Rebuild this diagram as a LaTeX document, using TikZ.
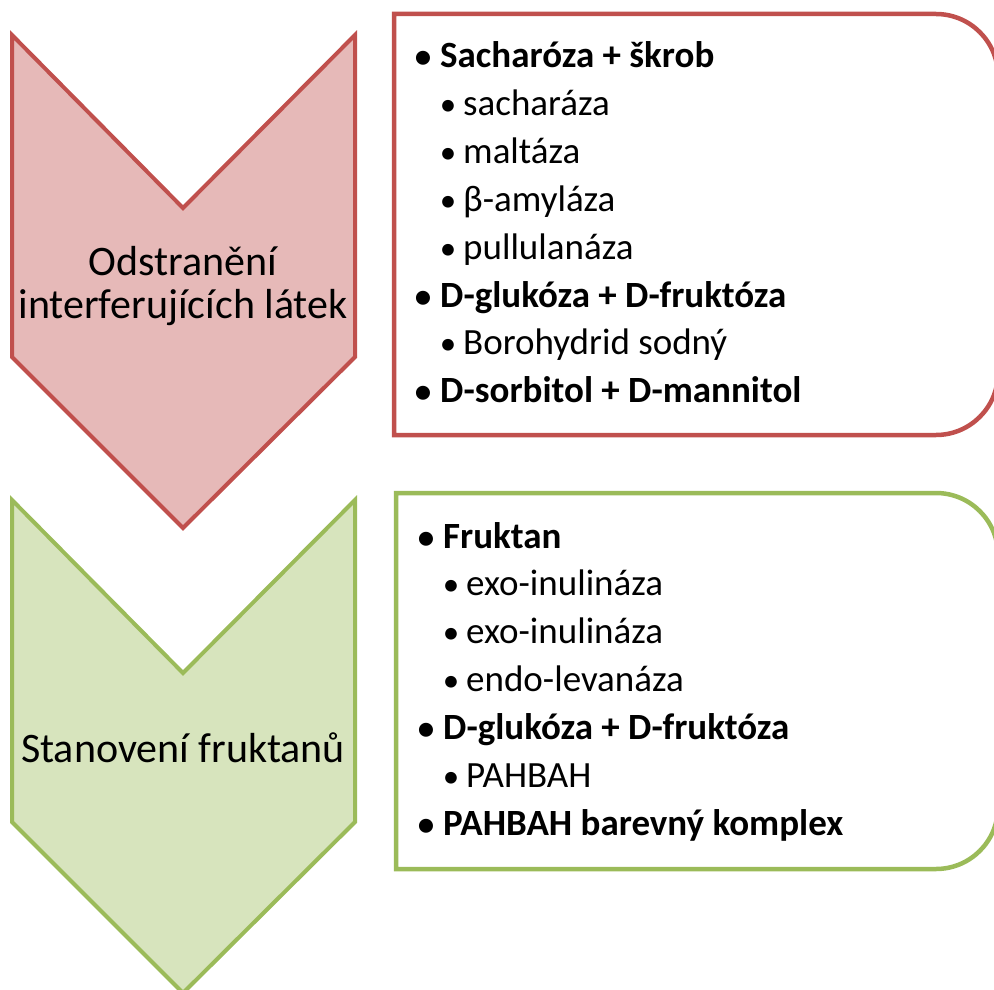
\documentclass[tikz,border=0pt]{standalone}
\usepackage{fontspec}
\setmainfont{Carlito}
\definecolor{redline}{HTML}{C0504D}
\definecolor{redfill}{HTML}{E6B9B8}
\definecolor{greenline}{HTML}{9BBB59}
\definecolor{greenfill}{HTML}{D7E4BD}
\tikzset{
  chev/.style={line width=4pt, line join=miter},
  listbox/.style={line width=4.5pt, fill=white},
  chevtext/.style={align=center, font=\fontsize{42}{43}\selectfont, inner sep=0pt},
  mainitem/.style={anchor=base west, inner sep=0pt, font=\fontsize{37}{44}\selectfont\bfseries},
  subitem/.style={anchor=base west, inner sep=0pt, font=\fontsize{37}{44}\selectfont},
  mainbul/.style={anchor=base, inner sep=0pt, font=\fontsize{33}{36}\selectfont\bfseries},
  subbul/.style={anchor=base, inner sep=0pt, font=\fontsize{33}{36}\selectfont},
}
\begin{document}
\begin{tikzpicture}[x=1pt,y=-1pt]
\useasboundingbox (0,0) rectangle (994,990);
% chevrons
\draw[chev, draw=redline, fill=redfill] (12,35) -- (183,208) -- (355,35) -- (355,357) -- (183,528) -- (12,357) -- cycle;
\draw[chev, draw=greenline, fill=greenfill] (12,500) -- (183,673) -- (355,500) -- (355,822) -- (183,993) -- (12,822) -- cycle;
\node[chevtext] (c1) at (183,286) {Odstranění\\interferujících látek};
\node[chevtext] (c2) at (183,748) {Stanovení fruktanů};
% boxes
\draw[listbox, draw=redline] (394,14) -- (936,14) arc[start angle=-90, end angle=0, radius=62] -- (998,373) arc[start angle=0, end angle=90, radius=62] -- (394,435) -- cycle;
\draw[listbox, draw=greenline] (396,493) -- (936,493) arc[start angle=-90, end angle=0, radius=62] -- (998,807) arc[start angle=0, end angle=90, radius=62] -- (396,869) -- cycle;
% red list
\node[mainbul] (rb1) at (423,68) {•};
\node[mainitem] (r1) at (440,68) {Sacharóza + škrob};
\node[subbul] (rb2) at (448,116) {•};
\node[subitem] (r2) at (463,116) {sacharáza};
\node[subbul] (rb3) at (448,163) {•};
\node[subitem] (r3) at (463,163) {maltáza};
\node[subbul] (rb4) at (448,211) {•};
\node[subitem] (r4) at (463,211) {β-amyláza};
\node[subbul] (rb5) at (448,259) {•};
\node[subitem] (r5) at (463,259) {pullulanáza};
\node[mainbul] (rb6) at (423,307) {•};
\node[mainitem] (r6) at (440,307) {D-glukóza + D-fruktóza};
\node[subbul] (rb7) at (448,354) {•};
\node[subitem] (r7) at (463,354) {Borohydrid sodný};
\node[mainbul] (rb8) at (423,402) {•};
\node[mainitem] (r8) at (440,402) {D-sorbitol + D-mannitol};
% green list
\node[mainbul] (gb1) at (426,548) {•};
\node[mainitem] (g1) at (443,548) {Fruktan};
\node[subbul] (gb2) at (451,595) {•};
\node[subitem] (g2) at (466,595) {exo-inulináza};
\node[subbul] (gb3) at (451,643) {•};
\node[subitem] (g3) at (466,643) {exo-inulináza};
\node[subbul] (gb4) at (451,691) {•};
\node[subitem] (g4) at (466,691) {endo-levanáza};
\node[mainbul] (gb5) at (426,739) {•};
\node[mainitem] (g5) at (443,739) {D-glukóza + D-fruktóza};
\node[subbul] (gb6) at (451,787) {•};
\node[subitem] (g6) at (466,787) {PAHBAH};
\node[mainbul] (gb7) at (426,835) {•};
\node[mainitem] (g7) at (443,835) {PAHBAH barevný komplex};
\end{tikzpicture}
\end{document}
